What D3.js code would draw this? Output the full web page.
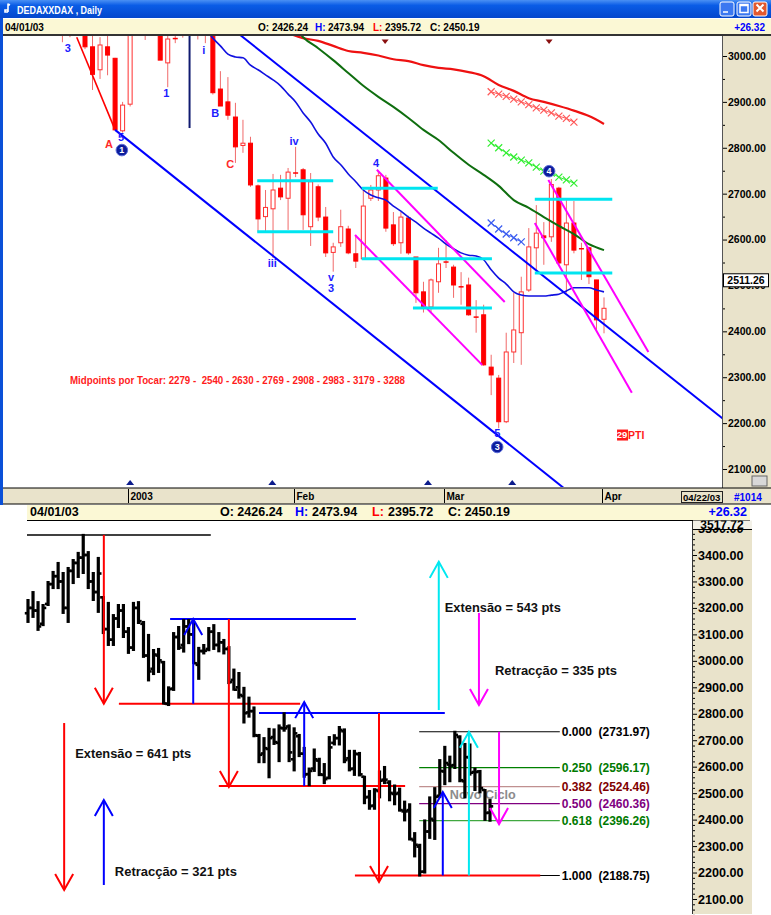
<!DOCTYPE html>
<html><head><meta charset="utf-8">
<script src="https://cdn.jsdelivr.net/npm/d3@7/dist/d3.min.js"></script>
<style>
body{margin:0;background:#fff;overflow:hidden}
svg{display:block}
text{font-family:"Liberation Sans",Arial,Helvetica,sans-serif;font-weight:bold;white-space:pre}
</style></head><body>
<svg id="c" width="771" height="915"></svg>
<script>
// ---------------- DATA ----------------
const dates = ["2002-11-15","2002-11-18","2002-11-19","2002-11-20","2002-11-21","2002-11-22","2002-11-25","2002-11-26","2002-11-27","2002-11-28","2002-11-29",
"2002-12-02","2002-12-03","2002-12-04","2002-12-05","2002-12-06","2002-12-09","2002-12-10","2002-12-11","2002-12-12","2002-12-13","2002-12-16","2002-12-17","2002-12-18","2002-12-19","2002-12-20","2002-12-23","2002-12-27","2002-12-30",
"2003-01-02","2003-01-03","2003-01-06","2003-01-07","2003-01-08","2003-01-09","2003-01-10","2003-01-13","2003-01-14","2003-01-15","2003-01-16","2003-01-17","2003-01-20","2003-01-21","2003-01-22","2003-01-23","2003-01-24","2003-01-27","2003-01-28","2003-01-29","2003-01-30","2003-01-31",
"2003-02-03","2003-02-04","2003-02-05","2003-02-06","2003-02-07","2003-02-10","2003-02-11","2003-02-12","2003-02-13","2003-02-14","2003-02-17","2003-02-18","2003-02-19","2003-02-20","2003-02-21","2003-02-24","2003-02-25","2003-02-26","2003-02-27","2003-02-28",
"2003-03-03","2003-03-04","2003-03-05","2003-03-06","2003-03-07","2003-03-10","2003-03-11","2003-03-12","2003-03-13","2003-03-14","2003-03-17","2003-03-18","2003-03-19","2003-03-20","2003-03-21","2003-03-24","2003-03-25","2003-03-26","2003-03-27","2003-03-28","2003-03-31",
"2003-04-01"];
const open = [3180,3200,3190,3140,3215,3290,3320,3300,3200,3340,
3370,3390,3400,3300,3260,3240,3120,3080,3160,3190,
3110,3050,3200,3140,3020,2970,3020,2995,2837,2895,
3090,3060,3130,3100,2985,3037,3045,3110,3060,3070,
3045,2928,2900,2867,2805,2810,2717,2650,2667,2712,
2690,2745,2752,2628,2715,2649,2572,2593,2623,2569,
2558,2690,2708,2734,2632,2593,2647,2562,2486,2453,
2508,2551,2540,2497,2501,2431,2436,2322,2298,2203,
2355,2397,2490,2582,2608,2606,2712,2545,2636,2580,
2582,2512,2426.24];
const high = [3230,3260,3222,3211,3298,3336,3370,3332,3351,3381,
3408,3476,3411,3332,3389,3241,3219,3173,3211,3211,
3124,3219,3222,3147,3098,3041,3045,2996,2900,3105,
3128,3154,3154,3143,3049,3060,3124,3135,3105,3079,
3052,2967,2954,2898,2861,2824,2720,2708,2743,2741,
2756,2802,2756,2745,2720,2671,2593,2665,2630,2610,
2712,2719,2750,2741,2660,2660,2652,2562,2508,2515,
2582,2599,2545,2529,2517,2468,2458,2349,2305,2397,
2484,2519,2625,2675,2638,2731.97,2715,2686,2684,2593,
2584,2512,2473.94];
const low = [3147,3166,3117,3135,3211,3275,3275,3181,3147,3294,
3317,3332,3275,3230,3185,3105,3060,3060,3128,3090,
3030,3041,3143,3015,2926,2950,2958,2839,2833,2890,
3045,3035,3067,2992,2932,3028,3040,3045,3036,3028,
2916,2891,2861,2767,2789,2715,2617,2617,2560,2686,
2621,2736,2621,2586,2640,2562,2530,2584,2568,2538,
2556,2684,2684,2617,2586,2569,2567,2462,2441,2441,
2484,2538,2473,2458,2434,2397,2325,2261,2188.75,2200,
2331,2327,2486,2534,2545,2595,2545,2484,2570,2512,
2503,2399,2395.72];
const close = [3200,3190,3130,3200,3290,3320,3300,3200,3340,3370,
3390,3400,3300,3260,3330,3120,3080,3160,3190,3110,
3050,3200,3150,3020,2960,3024,3002,2839,2893,3090,
3050,3130,3100,2991,3037,3038,3110,3060,3070,3045,
2920,2891,2871,2802,2810,2719,2645,2670,2708,2693,
2747,2745,2654,2726,2649,2571,2584,2628,2571,2553,
2673,2708,2739,2625,2591,2649,2571,2484,2451,2512,
2547,2551,2501,2497,2436,2431,2327,2305,2203,2355,
2403,2486,2584,2614,2604,2720,2549,2636,2577,2580,
2519,2425,2450.19];

const monthKeys = ["2003-01","2003-02","2003-03","2003-04"];
const monthLabels = ["2003","Feb","Mar","Apr"];
const topTicks = [2100,2200,2300,2400,2500,2600,2700,2800,2900,3000];
const botTicks = [2100,2200,2300,2400,2500,2600,2700,2800,2900,3000,3100,3200,3300,3400,3500];

// moving averages (bar index -> value)
const maBlueIdx = [39,40,41,42,43,44,45,46,47,48,49,50,51,52,53,54,55,56,57,58,59,60,61,62,63,64,65,66,67,68,69,70,71,72,73,74,75,76,77,78,79,80,81,82,83,84,85,86,87,88,89,90,91,92];
const maBlueVal = [3060,3039,3022,3004,2998,2996,2980,2970,2959,2948,2935,2917,2900,2876,2856,2830,2810,2780,2763,2743,2726,2708,2697,2691,2686,2673,2662,2649,2638,2625,2614,2603,2590,2580,2571,2566,2564,2556,2534,2516,2503,2486,2479,2477,2477,2477,2479,2481,2488,2495,2495,2495,2490,2486];
const maRedIdx = [50,52,54,56,58,60,62,64,66,68,70,72,74,76,78,80,82,84,86,88,90,92];
const maRedVal = [3050,3039,3033,3022,3011,3007,3001,2993,2989,2980,2974,2971,2965,2956,2937,2924,2908,2900,2891,2881,2869,2852];
const maGreenIdx = [51,52,54,56,58,60,62,64,66,68,70,72,74,76,78,80,82,84,86,88,90,92];
const maGreenVal = [3060,3041,3017,2991,2963,2935,2911,2889,2865,2839,2817,2789,2763,2741,2717,2686,2669,2649,2630,2612,2590,2577];

// projected (X-marked) lines
const xRedIdx = [77,78,79,80,81,82,83,84,85,86,87,88];
const xRedVal = [2922,2917,2912,2906,2900,2894,2887,2882,2876,2869,2864,2856];
const xGreenIdx = [77,78,79,80,81,82,83,84,85,86,87,88];
const xGreenVal = [2810,2800,2789,2780,2773,2767,2758,2749,2745,2736,2730,2723];
const xBlueIdx = [77,78,79,80,81];
const xBlueVal = [2636,2623,2612,2604,2595];

// trend / channel lines (index, value)
const trendLines = [
  {k:"red",  i1:21.9, v1:3041, i2:27,  v2:2839},
  {k:"blue", i1:27,   v1:2839, i2:87,  v2:2054},
  {k:"blue", i1:43,   v1:3054, i2:108, v2:2207},
  {k:"mag",  i1:58.9, v1:2610, i2:75.8, v2:2327},
  {k:"mag",  i1:61.8, v1:2752, i2:78.8, v2:2464},
  {k:"mag",  i1:84.6, v1:2730, i2:97.9, v2:2355},
  {k:"mag",  i1:82.8, v1:2636, i2:95.7, v2:2266},
  {k:"navy", i1:36.9, v1:3100, i2:36.9, v2:2843}
];
const cyanLines = [
  {i1:45.9, i2:56.0, v:2728},{i1:45.9, i2:56.0, v:2617},
  {i1:59.8, i2:69.9, v:2712},{i1:59.8, i2:77.1, v:2558},{i1:66.6, i2:77.1, v:2451},
  {i1:82.8, i2:93.1, v:2688},{i1:82.8, i2:93.1, v:2527}
];
const topLabels = [
  {t:"3", i:20.7, v:3017, k:"blue"},{t:"1", i:33.8, v:2919, k:"blue"},{t:"i", i:38.8, v:3013, k:"blue"},
  {t:"B", i:40.3, v:2876, k:"blue"},{t:"C", i:42.3, v:2765, k:"red"},{t:"A", i:26.2, v:2808, k:"red"},
  {t:"5", i:27.8, v:2824, k:"blue"},{t:"iv", i:50.8, v:2815, k:"blue"},{t:"iii", i:47.9, v:2549, k:"blue"},
  {t:"v", i:55.7, v:2518, k:"blue"},{t:"3", i:55.7, v:2494, k:"blue"},{t:"4", i:61.7, v:2767, k:"blue"},
  {t:"5", i:77.8, v:2178, k:"blue"}
];
const topCircles = [{t:"1", i:27.9, v:2795},{t:"4", i:84.7, v:2749},{t:"3", i:77.8, v:2148}];
const topMarksDown = [62.9, 84.7];
const botMarksUp = [29, 47.9, 68.6, 79.8];
const midpointsText = "Midpoints por Tocar: 2279 -  2540 - 2630 - 2769 - 2908 - 2983 - 3179 - 3288";
const midpointsPos = {i:21.0, v:2294};
const ptiPos = {i:94.4, v:2174};
const lastPrice = 2511.26;
const rangeHigh = 3517.72;

// lower chart annotations
const botHLines = [
  {i1:-0.2, i2:36.4, v:3476, k:"black"},
  {i1:18.1, i2:54.2, v:2838, k:"red"},
  {i1:28.3, i2:65.3, v:3158, k:"blue"},
  {i1:38.0, i2:75.1, v:2527, k:"red"},
  {i1:46.0, i2:83.0, v:2803, k:"blue"},
  {i1:65.1, i2:102.0, v:2188.75, k:"red"}
];
const botArrows = [
  {i:15.1, from:3476, to:2838, k:"red"},
  {i:32.9, from:2838, to:3158, k:"blue"},
  {i:40.0, from:3158, to:2523, k:"red"},
  {i:55.0, from:2527, to:2844, k:"blue"},
  {i:69.9, from:2803, to:2164, k:"red"},
  {i:82.6, from:2188.75, to:2504, k:"blue"},
  {i:87.8, from:2188.75, to:2731.97, k:"cyan"},
  {i:93.8, from:2731.97, to:2383, k:"mag"},
  {i:81.8, from:2814, to:3374, k:"cyan"},
  {i:89.8, from:3181, to:2833, k:"mag"},
  {i:7.2,  from:2765, to:2134, k:"red"},
  {i:15.1, from:2153, to:2474, k:"blue"}
];
const botTexts = [
  {t:"Extensão = 543 pts",  i:83.0, v:3200, w:116, k:"black"},
  {t:"Retracção = 335 pts", i:93.0, v:2962, w:122, k:"black"},
  {t:"Extensão = 641 pts",  i:9.4,  v:2648, w:116, k:"black"},
  {t:"Retracção = 321 pts", i:17.3, v:2202, w:122, k:"black"},
  {t:"Novo Ciclo",          i:84.0, v:2493, w:66,  k:"gray"}
];
const fibRatios = ["0.000","0.250","0.382","0.500","0.618","1.000"];
const fibValues = [2731.97,2596.17,2524.46,2460.36,2396.26,2188.75];
const fibSpan = {i1:77.9, i2:105.9, label:106.3};

// ---------------- STYLES ----------------
const col = {blue:"#0000ff", red:"#ff0000", black:"#000", mag:"#ff00ff", cyan:"#00e8f0", navy:"#101a70", gray:"#8c8c8c"};
const lblCol = {blue:"#1c1cff", red:"#ff2a2a"};
const fibTextCol = ["#000","#007a00","#800000","#800080","#007a00","#000"];
const fibLineCol = ["#000","#008000","#c09090","#800080","#40a840","#000"];
const beige = "#e9e3cb", yellow = "#fbf8d5";

// ---------------- SCALES ----------------
const N = dates.length;
const xT = d3.scaleLinear().domain([0, N-1]).range([-88, 604]);
const yT = d3.scaleLinear().domain([2100, 3000]).range([469, 56]);
const xB = d3.scaleLinear().domain([0, N-1]).range([28, 490]);
const yB = d3.scaleLinear().domain([2100, 3400]).range([899, 555]);

const svg = d3.select("#c");
const defs = svg.append("defs");
const grad = defs.append("linearGradient").attr("id","tb").attr("x1",0).attr("y1",0).attr("x2",0).attr("y2",1);
grad.append("stop").attr("offset","0%").attr("stop-color","#4a90f4");
grad.append("stop").attr("offset","30%").attr("stop-color","#0a5ce6");
grad.append("stop").attr("offset","100%").attr("stop-color","#0447cc");
defs.append("clipPath").attr("id","clipT").append("rect").attr("x",3).attr("y",36).attr("width",719).attr("height",451);
defs.append("clipPath").attr("id","clipB").append("rect").attr("x",3).attr("y",521).attr("width",688).attr("height",394);
defs.append("clipPath").attr("id","clipL").append("rect").attr("x",692).attr("y",520.5).attr("width",60).attr("height",9);

svg.append("rect").attr("width",771).attr("height",915).attr("fill","#fff");

// ---------------- WINDOW FRAME ----------------
svg.append("rect").attr("x",0).attr("y",0).attr("width",771).attr("height",18).attr("fill","url(#tb)");
svg.append("text").attr("x",17).attr("y",13.5).attr("fill","#fff").attr("font-size",11.5)
  .attr("textLength",85).attr("lengthAdjust","spacingAndGlyphs").text("DEDAXXDAX , Daily");
svg.append("path").attr("d","M8,3.5 L8,12 M8,12 L5,12 L5,10 L8,10 M8,4 L10,5").attr("stroke","#fff").attr("fill","none").attr("stroke-width",1.6);
[{x:720,f:"#3b78f0",g:"min"},{x:737,f:"#3b78f0",g:"max"},{x:753,f:"#e2592f",g:"close"}].forEach(b=>{
  svg.append("rect").attr("x",b.x).attr("y",2).attr("width",14).attr("height",14).attr("rx",2)
    .attr("fill",b.f).attr("stroke","#fff").attr("stroke-width",1);
  let d = b.g==="min" ? `M${b.x+3},${12} L${b.x+8},12` : b.g==="max" ? `M${b.x+3},4.5 h8 v8 h-8 z M${b.x+3},5.5 h8` : `M${b.x+3.5},4.5 L${b.x+10.5},11.5 M${b.x+10.5},4.5 L${b.x+3.5},11.5`;
  svg.append("path").attr("d",d).attr("stroke","#fff").attr("stroke-width",b.g==="close"?2:1.5).attr("fill","none");
});
svg.append("rect").attr("x",0).attr("y",18).attr("width",3).attr("height",487).attr("fill","#0a50d8");
svg.append("rect").attr("x",3).attr("y",19).attr("width",768).attr("height",15).attr("fill",yellow);
svg.append("line").attr("x1",3).attr("x2",771).attr("y1",35).attr("y2",35).attr("stroke","#333").attr("stroke-width",2);

// header rows
function hdr(items, y, fs){
  items.forEach(o=>{
    svg.append("text").attr("x",o.x).attr("y",y).attr("font-size",fs).attr("fill",o.c||"#000")
      .attr("text-anchor",o.a||"start").text(o.t);
  });
}
hdr([{t:"04/01/03",x:5},{t:"O: 2426.24",x:258},{t:"H:",x:315,c:"#0000ff"},{t:"2473.94",x:328},
     {t:"L:",x:373,c:"#ff0000"},{t:"2395.72",x:385},{t:"C: 2450.19",x:430},{t:"+26.32",x:765,a:"end",c:"#0000ff"}], 30.5, 10);

// ---------------- TOP AXIS PANEL ----------------
svg.append("rect").attr("x",722).attr("y",36).attr("width",49).attr("height",452).attr("fill",beige);
svg.append("line").attr("x1",722.5).attr("x2",722.5).attr("y1",36).attr("y2",488).attr("stroke","#555");
const axT = svg.append("g").attr("transform","translate(723,0)")
  .call(d3.axisRight(yT).tickValues(topTicks).tickSize(4).tickPadding(1).tickFormat(d3.format(".2f")));
axT.select(".domain").remove();
axT.selectAll("text").attr("font-size",10.5).attr("fill","#000");
const axTm = svg.append("g").attr("transform","translate(723,0)")
  .call(d3.axisRight(yT).tickValues(topTicks.map(t=>t+50).filter(t=>t<3040)).tickSize(2).tickFormat(""));
axTm.select(".domain").remove();
// last price box
svg.append("rect").attr("x",723.5).attr("y",yT(lastPrice)-6.5).attr("width",45).attr("height",13).attr("fill","#fff").attr("stroke","#000");
svg.append("text").attr("x",746).attr("y",yT(lastPrice)+4).attr("text-anchor","middle").attr("font-size",10.5).text(lastPrice.toFixed(2));
svg.append("rect").attr("x",752).attr("y",476).attr("width",15).attr("height",10).attr("fill","#d8d8d8").attr("stroke","#666");

// ---------------- DATE ROW ----------------
svg.append("rect").attr("x",3).attr("y",488).attr("width",768).attr("height",16).attr("fill",beige);
svg.append("line").attr("x1",3).attr("x2",771).attr("y1",488).attr("y2",488).attr("stroke","#000");
svg.append("line").attr("x1",3).attr("x2",771).attr("y1",504).attr("y2",504).attr("stroke","#000");
monthKeys.forEach((k,j)=>{
  const i = dates.findIndex(d=>d.startsWith(k));
  const x = Math.round(xT(i))-1.5;
  svg.append("line").attr("x1",x).attr("x2",x).attr("y1",489).attr("y2",503).attr("stroke","#000");
  svg.append("text").attr("x",x+2).attr("y",500).attr("font-size",10).text(monthLabels[j]);
});
svg.append("rect").attr("x",681.5).attr("y",491.5).attr("width",41).attr("height",11).attr("fill","none").attr("stroke","#222");
svg.append("text").attr("x",683).attr("y",501).attr("font-size",9.6).text(dates[N-1].slice(5,7)+"/22/03");
svg.append("text").attr("x",734).attr("y",501).attr("font-size",10).attr("fill","#0000ff").text("#1014");

// ---------------- TOP CHART ----------------
const gT = svg.append("g").attr("clip-path","url(#clipT)");
d3.range(N).forEach(i=>{
  const x = xT(i), o=open[i], c=close[i];
  gT.append("line").attr("x1",x).attr("x2",x).attr("y1",yT(high[i])).attr("y2",yT(low[i]))
    .attr("stroke","#f06a6a").attr("stroke-width",1);
  if (Math.abs(o-c) < 4) {
    gT.append("line").attr("x1",x-2.5).attr("x2",x+2.5).attr("y1",yT(c)).attr("y2",yT(c)).attr("stroke","#ff0000").attr("stroke-width",1.5);
  } else {
    const y1 = yT(Math.max(o,c)), y2 = yT(Math.min(o,c));
    gT.append("rect").attr("x",x-2).attr("y",y1).attr("width",4).attr("height",y2-y1)
      .attr("fill", c<o ? "#ff0000" : "#fff").attr("stroke", c<o ? "#ff0000" : "#ff3030").attr("stroke-width",1);
  }
});
const lineT = (idx, val) => d3.line().x((d,j)=>xT(idx[j])).y(d=>yT(d)).curve(d3.curveMonotoneX)(val);
gT.append("path").attr("d",lineT(maRedIdx,maRedVal)).attr("fill","none").attr("stroke","#ee1111").attr("stroke-width",2.2);
gT.append("path").attr("d",lineT(maGreenIdx,maGreenVal)).attr("fill","none").attr("stroke","#0f6e0f").attr("stroke-width",2);
gT.append("path").attr("d",lineT(maBlueIdx,maBlueVal)).attr("fill","none").attr("stroke","#1010e0").attr("stroke-width",1.6);
trendLines.forEach(l=>{
  gT.append("line").attr("x1",xT(l.i1)).attr("y1",yT(l.v1)).attr("x2",xT(l.i2)).attr("y2",yT(l.v2))
    .attr("stroke",col[l.k]).attr("stroke-width", l.k==="red"?1.6:2);
});
cyanLines.forEach(l=>{
  gT.append("line").attr("x1",xT(l.i1)).attr("x2",xT(l.i2)).attr("y1",yT(l.v)).attr("y2",yT(l.v))
    .attr("stroke","#00e5f0").attr("stroke-width",3);
});
function xMarks(idx, val, color){
  gT.append("path").attr("d",d3.line().x((d,j)=>xT(idx[j])).y(d=>yT(d))(val)).attr("fill","none").attr("stroke",color).attr("stroke-width",1);
  val.forEach((v,j)=>{
    const x=xT(idx[j]), y=yT(v);
    gT.append("path").attr("d",`M${x-3.5},${y-3.5} L${x+3.5},${y+3.5} M${x+3.5},${y-3.5} L${x-3.5},${y+3.5}`).attr("stroke",color).attr("stroke-width",1.2);
  });
}
xMarks(xRedIdx,xRedVal,"#ff5a5a");
xMarks(xGreenIdx,xGreenVal,"#33ee33");
xMarks(xBlueIdx,xBlueVal,"#3a5cf0");
topLabels.forEach(l=>{
  gT.append("text").attr("x",xT(l.i)).attr("y",yT(l.v)).attr("dy","0.36em").attr("text-anchor","middle")
    .attr("font-size",11).attr("fill",lblCol[l.k]).text(l.t);
});
topCircles.forEach(l=>{
  gT.append("circle").attr("cx",xT(l.i)).attr("cy",yT(l.v)).attr("r",5.8).attr("fill","#0c1c9c").attr("stroke","#5a6ad8").attr("stroke-width",1);
  gT.append("text").attr("x",xT(l.i)).attr("y",yT(l.v)).attr("dy","0.36em").attr("text-anchor","middle")
    .attr("font-size",9).attr("fill","#fff").text(l.t);
});
topMarksDown.forEach(i=>{
  const x=xT(i);
  gT.append("path").attr("d",`M${x-3.5},39.5 L${x+3.5},39.5 L${x},44 Z`).attr("fill","#8a1010");
});
botMarksUp.forEach(i=>{
  const x=xT(i);
  gT.append("path").attr("d",`M${x-4},485 L${x+4},485 L${x},480 Z`).attr("fill","#0c1c8c");
});
gT.append("text").attr("x",xT(midpointsPos.i)).attr("y",yT(midpointsPos.v)).attr("dy","0.36em")
  .attr("font-size",10).attr("fill","#ff1c1c").attr("textLength",335).attr("lengthAdjust","spacingAndGlyphs").text(midpointsText);
{
  const x=xT(ptiPos.i), y=yT(ptiPos.v);
  gT.append("rect").attr("x",x-5).attr("y",y-5.5).attr("width",11).attr("height",11).attr("fill","#ff1a1a");
  gT.append("text").attr("x",x).attr("y",y).attr("dy","0.36em").attr("text-anchor","middle").attr("font-size",9.5).attr("fill","#fff").text("29");
  gT.append("text").attr("x",x+6).attr("y",y).attr("dy","0.36em").attr("font-size",10.5).attr("fill","#ff1a1a").text("PTI");
}

// ---------------- BOTTOM HEADER ----------------
svg.append("rect").attr("x",27).attr("y",505).attr("width",723).attr("height",15).attr("fill",yellow);
svg.append("line").attr("x1",27).attr("x2",750).attr("y1",520.5).attr("y2",520.5).attr("stroke","#000");
hdr([{t:"04/01/03",x:30},{t:"O: 2426.24",x:220},{t:"H:",x:295,c:"#0000ff"},{t:"2473.94",x:312},
     {t:"L:",x:372,c:"#ff0000"},{t:"2395.72",x:388},{t:"C: 2450.19",x:448},{t:"+26.32",x:747,a:"end",c:"#0000ff"}], 516, 12.5);

// ---------------- BOTTOM AXIS ----------------
svg.append("rect").attr("x",692).attr("y",521).attr("width",60).attr("height",393).attr("fill",beige);
svg.append("line").attr("x1",692.5).attr("x2",692.5).attr("y1",521).attr("y2",914).attr("stroke","#333");
const axB = svg.append("g").attr("transform","translate(693,0)")
  .call(d3.axisRight(yB).tickValues(botTicks).tickSize(4).tickPadding(1).tickFormat(d3.format(".2f")));
axB.select(".domain").remove();
axB.selectAll("text").attr("font-size",12.6).attr("fill","#000");
const minorB = d3.range(2020, 3500, 20).filter(v=>v%100!==0);
const axBm = svg.append("g").attr("transform","translate(693,0)")
  .call(d3.axisRight(yB).tickValues(minorB).tickSize(2).tickFormat(""));
axBm.select(".domain").remove();
svg.append("rect").attr("x",693).attr("y",520.5).attr("width",59).attr("height",8.5).attr("fill","#f3f1e8");
svg.append("line").attr("x1",693).attr("x2",752).attr("y1",529.5).attr("y2",529.5).attr("stroke","#000");
svg.append("g").attr("clip-path","url(#clipL)").append("text").attr("x",722).attr("y",529.3).attr("text-anchor","middle")
  .attr("font-size",12).text(rangeHigh.toFixed(2));

// ---------------- BOTTOM CHART ----------------
const gB = svg.append("g").attr("clip-path","url(#clipB)");
botTexts.filter(t=>t.k==="gray").forEach(t=>{
  gB.append("text").attr("x",xB(t.i)).attr("y",yB(t.v)).attr("dy","0.36em").attr("font-size",12)
    .attr("fill",col.gray).attr("textLength",t.w).attr("lengthAdjust","spacingAndGlyphs").text(t.t);
});
fibValues.forEach((v,j)=>{
  gB.append("line").attr("x1",xB(fibSpan.i1)).attr("x2",xB(fibSpan.i2)).attr("y1",yB(v)).attr("y2",yB(v))
    .attr("stroke",fibLineCol[j]).attr("stroke-width",1.2);
  gB.append("text").attr("x",xB(fibSpan.label)).attr("y",yB(v)).attr("dy","0.36em").attr("font-size",12)
    .attr("fill",fibTextCol[j]).text(`${fibRatios[j]}  (${v.toFixed(2)})`);
});
botHLines.forEach(l=>{
  gB.append("line").attr("x1",xB(l.i1)).attr("x2",xB(l.i2)).attr("y1",yB(l.v)).attr("y2",yB(l.v))
    .attr("stroke",col[l.k]).attr("stroke-width",l.k==="black"?1.5:2);
});
d3.range(N).forEach(i=>{
  const x = xB(i);
  gB.append("line").attr("x1",x).attr("x2",x).attr("y1",yB(high[i])-1).attr("y2",yB(low[i])+1).attr("stroke","#000").attr("stroke-width",3.2);
  gB.append("line").attr("x1",x-3.2).attr("x2",x).attr("y1",yB(open[i])).attr("y2",yB(open[i])).attr("stroke","#000").attr("stroke-width",2.6);
  gB.append("line").attr("x1",x).attr("x2",x+3.2).attr("y1",yB(close[i])).attr("y2",yB(close[i])).attr("stroke","#000").attr("stroke-width",2.6);
});
botArrows.forEach(a=>{
  const x = xB(a.i), y1 = yB(a.from), y2 = yB(a.to), c = col[a.k];
  const dir = y2 > y1 ? -1 : 1;
  gB.append("line").attr("x1",x).attr("x2",x).attr("y1",y1).attr("y2",y2).attr("stroke",c).attr("stroke-width",2);
  gB.append("polyline").attr("points",`${x-9},${y2+dir*16} ${x},${y2} ${x+9},${y2+dir*16}`)
    .attr("fill","none").attr("stroke",c).attr("stroke-width",2);
});
botTexts.filter(t=>t.k!=="gray").forEach(t=>{
  gB.append("text").attr("x",xB(t.i)).attr("y",yB(t.v)).attr("dy","0.36em").attr("font-size",12)
    .attr("fill","#111").attr("textLength",t.w).attr("lengthAdjust","spacingAndGlyphs").text(t.t);
});
</script></body></html>
